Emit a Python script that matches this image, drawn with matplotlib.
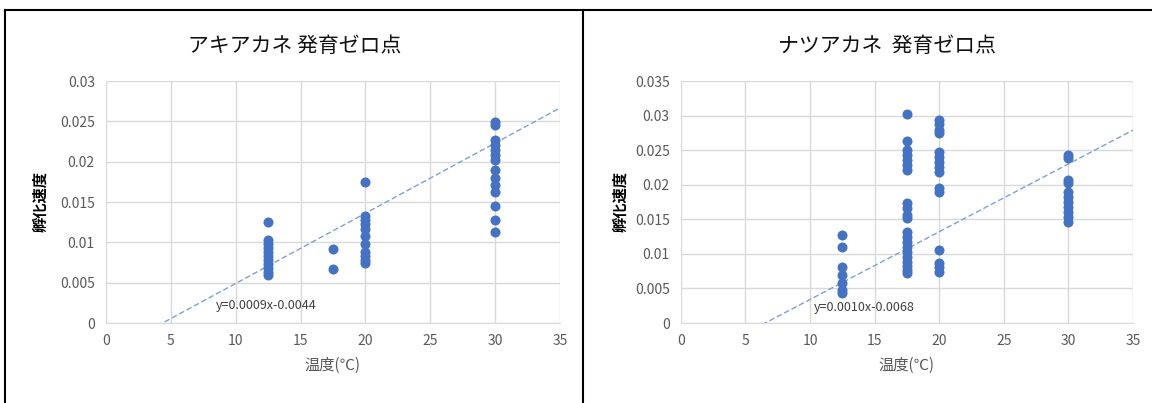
import matplotlib
matplotlib.use('Agg')
import matplotlib.pyplot as plt
from matplotlib.lines import Line2D
import numpy as np

plt.rcParams['font.family'] = ['Noto Sans CJK JP', 'DejaVu Sans']

#----------------------------------------------------------
# DATA
#----------------------------------------------------------
aki_temp = [12.5] * 11 + [17.5] * 2 + [20] * 11 + [30] * 14
aki_rate = [0.0125, 0.0103, 0.0098, 0.0093, 0.0088, 0.0083, 0.0078, 0.0073, 0.0068, 0.0063, 0.0060,
            0.0092, 0.0067,
            0.0175, 0.0133, 0.0128, 0.0123, 0.0116, 0.0108, 0.0098, 0.0088, 0.0083, 0.0078, 0.0074,
            0.0249, 0.0246, 0.0227, 0.0221, 0.0215, 0.0208, 0.0202, 0.0190, 0.0180, 0.0171, 0.0163,
            0.0145, 0.0128, 0.0113]
aki_trend = [0.00087, -0.0038]   # slope, intercept of the drawn trend line
aki_title = 'アキアカネ 発育ゼロ点'
aki_eq = 'y=0.0009x-0.0044'

natsu_temp = [12.5] * 7 + [17.5] * 21 + [20] * 15 + [30] * 11
natsu_rate = [0.0127, 0.0110, 0.0081, 0.0069, 0.0058, 0.0048, 0.0043,
              0.0303, 0.0263, 0.0250, 0.0243, 0.0236, 0.0228, 0.0222,
              0.0173, 0.0166, 0.0156, 0.0152, 0.0131, 0.0124, 0.0117, 0.0110, 0.0103, 0.0095,
              0.0088, 0.0082, 0.0077, 0.0072,
              0.0293, 0.0288, 0.0279, 0.0275, 0.0247, 0.0240, 0.0233, 0.0225, 0.0218, 0.0195,
              0.0189, 0.0105, 0.0087, 0.0081, 0.0074,
              0.0243, 0.0238, 0.0207, 0.0202, 0.0189, 0.0182, 0.0175, 0.0168, 0.0160, 0.0153, 0.0146]
natsu_trend = [0.00098, -0.0064]
natsu_title = 'ナツアカネ  発育ゼロ点'
natsu_eq = 'y=0.0010x-0.0068'

xticks = [0, 5, 10, 15, 20, 25, 30, 35]
aki_yticks = [0, 0.005, 0.01, 0.015, 0.02, 0.025, 0.03]
natsu_yticks = [0, 0.005, 0.01, 0.015, 0.02, 0.025, 0.03, 0.035]
ylabel = '孵化速度'
xlabel = '温度(℃)'

BLUE = '#4472C4'
GRID = '#d9d9d9'
TXT = '#595959'

fig = plt.figure(figsize=(11.52, 4.03), dpi=100)


def panel(rect, temp, rate, trend, yticks, title, eq, eq_x, ylab_x, title_x):
    ax = fig.add_axes(rect)
    ax.scatter(temp, rate, s=52, color=BLUE, zorder=3, linewidths=0)
    k, b = trend
    xs = np.array([0, 35])
    ax.plot(xs, k * xs + b, color='#7f9fd8', lw=1, dashes=(4, 2), zorder=2)
    ax.set_xlim(0, 35)
    ax.set_ylim(0, yticks[-1])
    ax.set_xticks(xticks)
    ax.set_yticks(yticks)
    ax.set_yticklabels(['0' if v == 0 else f'{v:g}' for v in yticks])
    ax.grid(True, color=GRID, lw=1)
    ax.set_axisbelow(True)
    for s in ['top', 'right', 'left']:
        ax.spines[s].set_visible(False)
    ax.spines['bottom'].set_color(GRID)
    ax.tick_params(length=0, labelsize=10, labelcolor=TXT, pad=8)
    ax.text(eq_x, 0.0017, eq, fontsize=9, color='#404040')
    ax.set_xlabel(xlabel, fontsize=11, color=TXT, labelpad=6)
    fig.text(ylab_x, 0.5, ylabel, rotation=90, fontsize=11, fontweight='bold',
             ha='center', va='center')
    fig.text(title_x, 0.885, title, fontsize=15, ha='center', va='center', color='#111111')
    return ax


panel([0.092, 0.1985, 0.394, 0.6005], aki_temp, aki_rate, aki_trend, aki_yticks,
      aki_title, aki_eq, 8.5, 0.035, 0.256)
panel([0.591, 0.1985, 0.3925, 0.6005], natsu_temp, natsu_rate, natsu_trend, natsu_yticks,
      natsu_title, natsu_eq, 10.3, 0.538, 0.77)

# panel borders
fig.add_artist(Line2D([5 / 1152, 5 / 1152], [0, 1 - 10 / 403], color='black', lw=1.5))
fig.add_artist(Line2D([583 / 1152, 583 / 1152], [0, 1 - 10 / 403], color='black', lw=1.5))
fig.add_artist(Line2D([5 / 1152, 1], [1 - 10 / 403, 1 - 10 / 403], color='black', lw=1.5))

fig.savefig('out.png', dpi=100)
